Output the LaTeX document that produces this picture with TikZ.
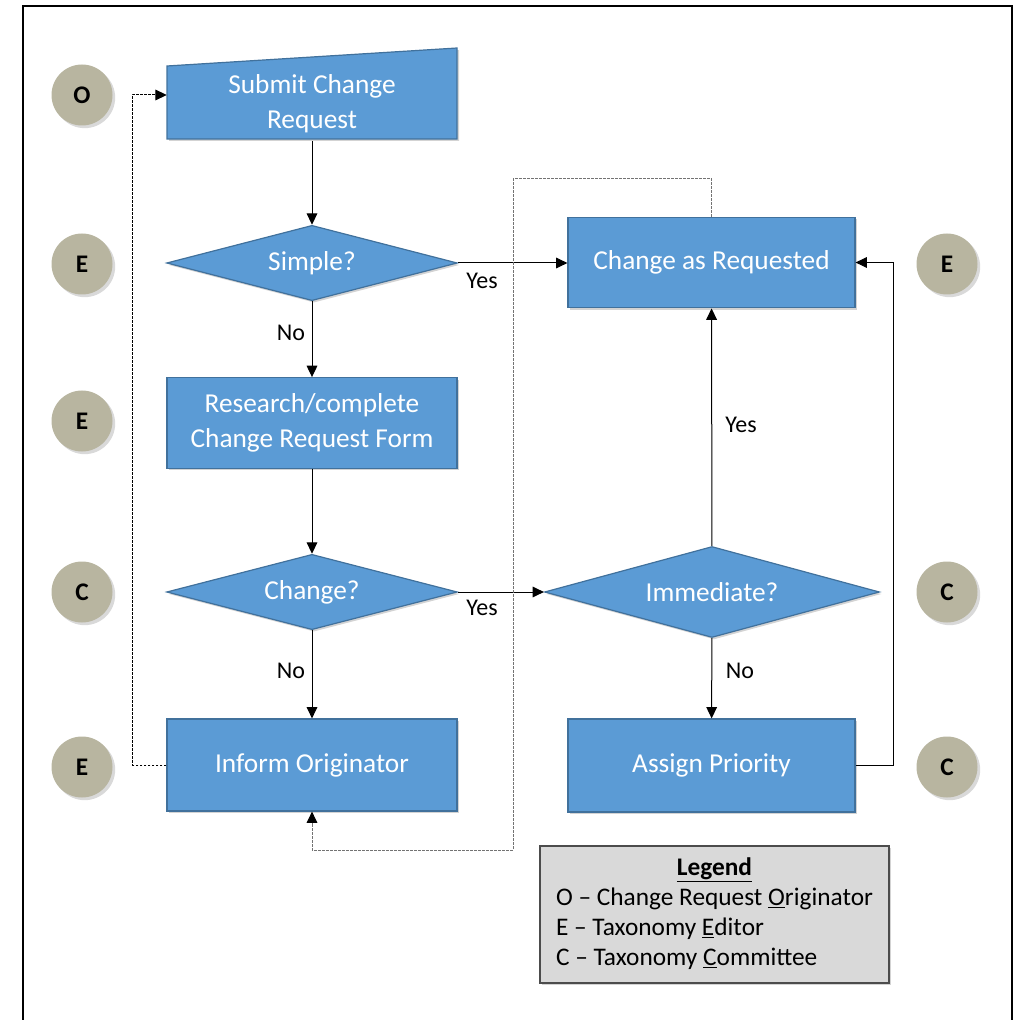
\documentclass[tikz,border=0pt]{standalone}
\usepackage{fontspec}
\setmainfont{Carlito}
\usetikzlibrary{shapes.geometric,arrows.meta,shadows}

\definecolor{boxblue}{RGB}{91,155,213}
\definecolor{boxline}{RGB}{65,113,156}
\definecolor{roletan}{RGB}{184,181,160}
\definecolor{legendgray}{RGB}{217,217,217}

\begin{document}
\begin{tikzpicture}[x=0.75pt,y=0.75pt,yscale=-1,xscale=1,
  boxtext/.style={text=white,font=\fontsize{20.5}{26}\selectfont,align=center,inner sep=0pt},
  stepshape/.style={boxtext,draw=boxline,fill=boxblue,line width=0.9pt,
    drop shadow={shadow xshift=1.5pt,shadow yshift=-1.5pt,opacity=0.35}},
  process/.style={stepshape,rectangle,minimum width=217.5pt,minimum height=68pt},
  decision/.style={stepshape,diamond,aspect=3.7,minimum width=218pt,minimum height=56.5pt},
  role/.style={circle,fill=roletan,minimum size=45.75pt,inner sep=0pt,
    font=\bfseries\fontsize{19}{19}\selectfont,
    drop shadow={shadow xshift=2pt,shadow yshift=-2pt,opacity=0.3}},
  answer/.style={inner sep=0.75pt,font=\fontsize{18}{18}\selectfont},
  flow/.style={line width=0.75pt,-{Triangle[length=8.5pt,width=8pt,fill=black,color=black]}},
  dashflow/.style={flow,dash pattern={on 2pt off 1pt}}]
\useasboundingbox (0,0) rectangle (1026,1020);

%Shape: Frame
\draw [line width=2pt] (23,1020) -- (23,6) -- (1012,6) -- (1012,1020) ;

%Shape: Circles (roles)
\node [role] (roleO) at (82,95) {O};
\node [role] (roleE1) at (82,264) {E};
\node [role] (roleE2) at (82,421) {E};
\node [role] (roleC1) at (82,592) {C};
\node [role] (roleE3) at (82,767) {E};
\node [role] (roleE4) at (947,264) {E};
\node [role] (roleC2) at (947,592) {C};
\node [role] (roleC3) at (947,767) {C};

%Shape: Manual Input
\draw [draw=boxline,fill=boxblue,line width=0.9pt,
  drop shadow={shadow xshift=1.5pt,shadow yshift=-1.5pt,opacity=0.35}]
  (167,66) -- (457,48) -- (457,139) -- (167,139) -- cycle ;
\node [boxtext,rectangle,minimum width=217.5pt,minimum height=54.75pt] (submit) at (312,104) {Submit Change\\Request};

%Shape: Boxes and Diamonds
\node [decision] (simple) at (312,263) {Simple?};
\node [process] (research) at (312,423) {Research/complete\\Change Request Form};
\node [decision] (change) at (312,592) {Change?};
\node [process,minimum height=69pt] (inform) at (312,765) {Inform Originator};
\node [process,minimum width=215.25pt] (changed) at (711.5,262.5) {Change as Requested};
\node [decision,minimum width=251.25pt,minimum height=68.25pt] (immediate) at (712,592) {Immediate?};
\node [process,minimum width=215.25pt,minimum height=69.75pt] (assign) at (711.5,765.5) {Assign Priority};
\coordinate (loopR) at (513,850);

%Straight Lines
\draw [flow] (submit) -- (simple) ;
\draw [flow] (simple.east) -- (simple.east -| changed.west) ;
\draw [flow] (simple) -- (research) ;
\draw [flow] (research) -- (change) ;
\draw [flow] (change.east) -- (change.east -| immediate.west) ;
\draw [flow] (change) -- (inform) ;
\draw [flow] (immediate) -- (changed) ;
\draw [flow] (immediate) -- (assign) ;
\draw [flow] (assign.east) -- ++(38,0) |- (changed.east) ;
%Dashed Lines
\draw [dashflow] (inform.west) -- ++(-34,0) |- (submit.west |- roleO) ;
\draw [dashflow,draw=black!55] (changed.north) -- ++(0,-38) -| (loopR) -| (inform.south) ;

% Text Node
\node [answer] (yes1) at (482,281) {Yes};
\node [answer] (no1) at (291,333) {No};
\node [answer] (yes2) at (482,608) {Yes};
\node [answer] (no2) at (291,671) {No};
\node [answer] (yes3) at (741,425) {Yes};
\node [answer] (no3) at (740,671) {No};

% Legend
\node [draw=black!70,line width=1pt,fill=legendgray,minimum width=261.75pt,minimum height=102.75pt,
  inner sep=0pt,font=\fontsize{19}{22.5}\selectfont,
  drop shadow={shadow xshift=1.5pt,shadow yshift=-1.5pt,opacity=0.35}] (legend) at (714.5,914.5)
  {\begin{tabular}{@{}l@{}}
   \multicolumn{1}{@{}c@{}}{\textbf{\underline{Legend}}}\\
   O -- Change Request \underline{O}riginator\\
   E -- Taxonomy \underline{E}ditor\\
   C -- Taxonomy \underline{C}ommittee
   \end{tabular}};
\end{tikzpicture}
\end{document}
